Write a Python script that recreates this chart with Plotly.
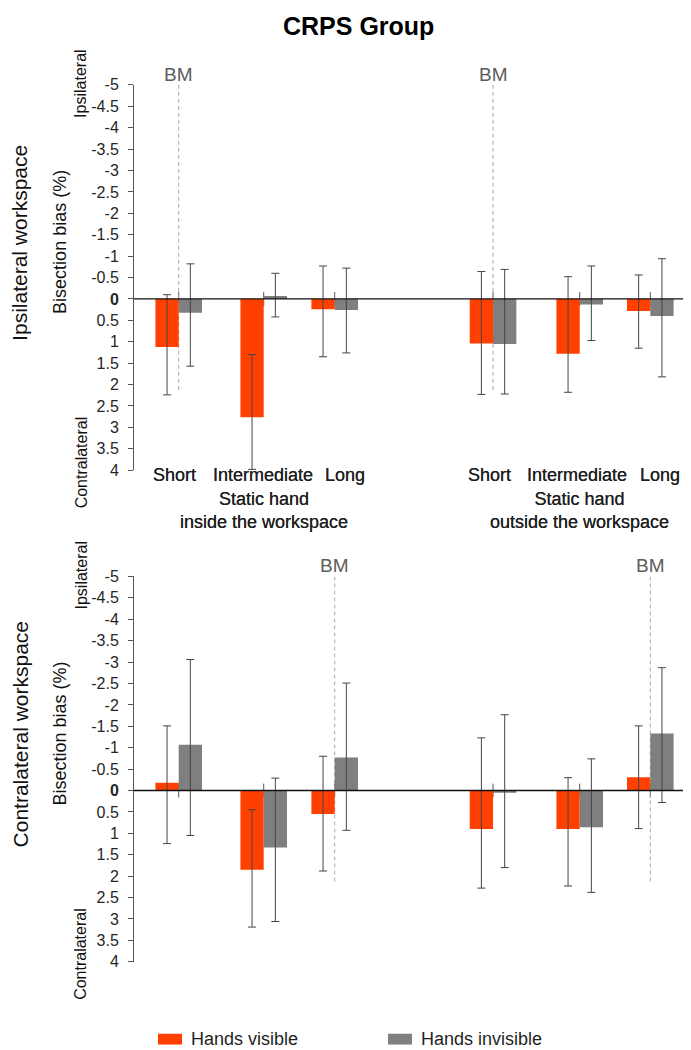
import plotly.graph_objects as go

# ---------------- data ----------------
categories = ["Short", "Intermediate", "Long", "Short", "Intermediate", "Long"]
group_titles = ["Static hand<br>inside the workspace", "Static hand<br>outside the workspace"]
series_names = ["Hands visible", "Hands invisible"]

# Ipsilateral workspace (top panel)
vis_mean_ipsi = [1.12, 2.76, 0.24, 1.04, 1.28, 0.28]
vis_lo_ipsi = [-0.10, 1.30, -0.77, -0.64, -0.52, -0.56]
vis_hi_ipsi = [2.24, 3.98, 1.35, 2.23, 2.18, 1.15]
inv_mean_ipsi = [0.32, -0.07, 0.26, 1.05, 0.13, 0.40]
inv_lo_ipsi = [-0.82, -0.60, -0.72, -0.69, -0.77, -0.94]
inv_hi_ipsi = [1.57, 0.42, 1.26, 2.22, 0.97, 1.82]

# Contralateral workspace (bottom panel)
vis_mean_contra = [-0.18, 1.85, 0.55, 0.90, 0.90, -0.31]
vis_lo_contra = [-1.51, 0.45, -0.80, -1.23, -0.30, -1.51]
vis_hi_contra = [1.24, 3.19, 1.88, 2.28, 2.23, 0.89]
inv_mean_contra = [-1.07, 1.33, -0.77, 0.05, 0.86, -1.33]
inv_lo_contra = [-3.06, -0.29, -2.51, -1.77, -0.74, -2.87]
inv_hi_contra = [1.05, 3.06, 0.93, 1.80, 2.38, 0.28]

# BM (bisection midpoint) marker: index of category, and extent of dashed line
bm_ipsi = [0, 3]
bm_contra = [2, 5]
bm_line_end = 2.15

y_ticks = [-5, -4.5, -4, -3.5, -3, -2.5, -2, -1.5, -1, -0.5, 0, 0.5, 1, 1.5, 2, 2.5, 3, 3.5, 4]

# ---------------- layout helpers ----------------
W, H = 691, 1050
ML = 126
group_x = [1.918, 5.567, 8.614, 15.41, 19.13, 22.16]
label_x = [1.747, 5.536, 9.077, 15.237, 19.026, 22.567]
x_range = [0, 24.25]
bar_w = 1.0
tick_half = 0.16
ORANGE = "#FF4000"
GRAY = "#7F7F7F"
TXT = "#1f1f1f"
FONT = "Liberation Sans, Arial, sans-serif"


def tick_label(v):
    if v == 0:
        return "<b>0</b>"
    return ("%g" % v).replace("\u2212", "-")


def px_x(px):
    return (px - ML) / (W - ML)


def px_y(py):
    return 1 - py / H


fig = go.Figure()

panels = [
    dict(ax="", vm=vis_mean_ipsi, vl=vis_lo_ipsi, vh=vis_hi_ipsi,
         im=inv_mean_ipsi, il=inv_lo_ipsi, ih=inv_hi_ipsi, bm=bm_ipsi,
         top=70.0, bottom=461.7, label="Ipsilateral workspace"),
    dict(ax="2", vm=vis_mean_contra, vl=vis_lo_contra, vh=vis_hi_contra,
         im=inv_mean_contra, il=inv_lo_contra, ih=inv_hi_contra, bm=bm_contra,
         top=569.7, bottom=961.3, label="Contralateral workspace"),
]

for p in panels:
    xa = "x" + p["ax"]
    ya = "y" + p["ax"]
    for name, mean, lo, hi, col, off in [
        (series_names[0], p["vm"], p["vl"], p["vh"], ORANGE, -bar_w),
        (series_names[1], p["im"], p["il"], p["ih"], GRAY, 0.0),
    ]:
        plus = [h - m for h, m in zip(hi, mean)]
        minus = [m - l for m, l in zip(mean, lo)]
        fig.add_trace(go.Bar(
            x=group_x, y=mean, width=bar_w, offset=off,
            marker=dict(color=col, line=dict(width=0)),
            name=name, showlegend=False, xaxis=xa, yaxis=ya,
            error_y=dict(type="data", symmetric=False, array=plus, arrayminus=minus,
                         color="#454545", thickness=1, width=4),
        ))

    # category tick marks crossing the zero line (behind bars)
    for gx in group_x:
        fig.add_shape(type="line", xref=xa, yref=ya, x0=gx, x1=gx,
                      y0=-tick_half, y1=tick_half, layer="below",
                      line=dict(color="#555555", width=1))
    # zero line
    fig.add_shape(type="line", xref=xa + " domain", yref=ya, x0=0, x1=1, y0=0, y1=0,
                  layer="above", line=dict(color="#111111", width=1.3))

    # BM dashed lines + labels
    for i in p["bm"]:
        fig.add_shape(type="line", xref=xa, yref=ya, x0=group_x[i], x1=group_x[i],
                      y0=y_ticks[0], y1=bm_line_end, layer="below",
                      line=dict(color="#A8A8A8", width=1, dash="4px,3px"))
        fig.add_annotation(xref=xa, yref=ya, x=group_x[i], y=y_ticks[0], text="BM",
                           showarrow=False, yanchor="bottom", yshift=-2,
                           font=dict(size=19, color="#5c5c5c", family=FONT))

    ph = p["bottom"] - p["top"]
    # category labels
    for lx, cat in zip(label_x, categories):
        fig.add_annotation(xref=xa, yref=ya + " domain", x=lx, y=-(467 - p["bottom"]) / ph,
                           text=cat, showarrow=False, yanchor="middle",
                           font=dict(size=18, color=TXT, family=FONT))
    for gi, title in zip([1, 4], group_titles):
        fig.add_annotation(xref=xa, yref=ya + " domain", x=group_x[gi],
                           y=-(502.5 - p["bottom"]) / ph, text=title, showarrow=False,
                           yanchor="middle", font=dict(size=18, color=TXT, family=FONT))

    # left-side texts
    zero_px = p["top"] + ph * 5 / 9
    fig.add_annotation(xref="paper", yref="paper", x=px_x(12), y=px_y(zero_px - 57),
                       text=p["label"], textangle=-90, showarrow=False,
                       xanchor="center", yanchor="middle",
                       font=dict(size=21, color="#111111", family=FONT))
    fig.add_annotation(xref="paper", yref="paper", x=px_x(52), y=px_y(zero_px - 58),
                       text="Bisection bias (%)", textangle=-90, showarrow=False,
                       xanchor="center", yanchor="middle",
                       font=dict(size=18, color="#111111", family=FONT))
    fig.add_annotation(xref="paper", yref="paper", x=px_x(73), y=px_y(p["top"] - 1),
                       text="Ipsilateral", textangle=-90, showarrow=False,
                       xanchor="center", yanchor="middle",
                       font=dict(size=16, color="#111111", family=FONT))
    fig.add_annotation(xref="paper", yref="paper", x=px_x(73), y=px_y(p["bottom"] - 8),
                       text="Contralateral", textangle=-90, showarrow=False,
                       xanchor="center", yanchor="middle",
                       font=dict(size=16, color="#111111", family=FONT))

# manual legend (wide colour keys like the reference)
legend_items = [(series_names[0], ORANGE, 150), (series_names[1], GRAY, 380)]
ly = 1040
for name, col, lx in legend_items:
    fig.add_shape(type="rect", xref="paper", yref="paper",
                  x0=px_x(lx), x1=px_x(lx + 24), y0=px_y(ly + 5.5), y1=px_y(ly - 5.5),
                  line=dict(width=0), fillcolor=col)
    fig.add_annotation(xref="paper", yref="paper", x=px_x(lx + 31), y=px_y(ly),
                       text=name, showarrow=False, xanchor="left", yanchor="middle",
                       font=dict(size=18, color=TXT, family=FONT))

# axes
yaxis_common = dict(
    range=[y_ticks[-1], y_ticks[0]], tickmode="array", tickvals=y_ticks,
    ticktext=[tick_label(v) for v in y_ticks], showgrid=False,
    showline=True, linecolor="#555555", linewidth=1,
    ticks="outside", ticklen=5, tickcolor="#555555", tickwidth=1,
    tickfont=dict(size=16, color="#262626", family=FONT), ticklabelstandoff=6,
    zeroline=False,
)
xaxis_common = dict(range=x_range, visible=False, showgrid=False, zeroline=False)

p0, p1 = panels
fig.update_layout(
    width=W, height=H,
    margin=dict(l=ML, r=0, t=0, b=0),
    paper_bgcolor="white", plot_bgcolor="white",
    barmode="overlay",
    font=dict(family=FONT, color=TXT),
    xaxis=dict(domain=[0, 1], anchor="y", **xaxis_common),
    xaxis2=dict(domain=[0, 1], anchor="y2", **xaxis_common),
    yaxis=dict(domain=[px_y(p0["bottom"]), px_y(p0["top"])], anchor="x", **yaxis_common),
    yaxis2=dict(domain=[px_y(p1["bottom"]), px_y(p1["top"])], anchor="x2", **yaxis_common),
    showlegend=False,
)

fig.add_annotation(xref="paper", yref="paper", x=px_x(350), y=px_y(10), text="<b>CRPS Group</b>",
                   showarrow=False, xanchor="center", yanchor="middle",
                   font=dict(size=25, color="#000000", family=FONT))

fig.write_html("out.html")
